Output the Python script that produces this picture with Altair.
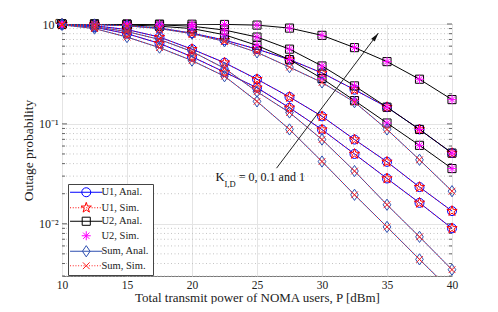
import altair as alt
import pandas as pd
import numpy as np

# ---------------- data ----------------
P = [10, 12.5, 15, 17.5, 20, 22.5, 25, 27.5, 30, 32.5, 35, 37.5, 40]
K_LABELS = ["0", "0.1", "1"]

u1_anal_k0 = [0.985, 0.93, 0.80, 0.64, 0.47, 0.33, 0.23, 0.145, 0.0877, 0.050, 0.0284, 0.0162, 0.0090]
u1_anal_k01 = [0.99, 0.96, 0.88, 0.74, 0.56, 0.41, 0.28, 0.186, 0.119, 0.0697, 0.0417, 0.0233, 0.0134]
u1_anal_k1 = [1.0, 0.99, 0.96, 0.91, 0.81, 0.69, 0.56, 0.44, 0.324, 0.22, 0.147, 0.088, 0.051]
u1_sim_k0 = [0.985, 0.93, 0.80, 0.64, 0.47, 0.33, 0.23, 0.145, 0.0877, 0.050, 0.0284, 0.0162, 0.0090]
u1_sim_k01 = [0.99, 0.96, 0.88, 0.74, 0.56, 0.41, 0.28, 0.186, 0.119, 0.0697, 0.0417, 0.0233, 0.0134]
u1_sim_k1 = [1.0, 0.99, 0.96, 0.91, 0.81, 0.69, 0.56, 0.44, 0.324, 0.22, 0.147, 0.088, 0.051]

u2_anal_k0 = [1.0, 0.995, 0.98, 0.95, 0.90, 0.78, 0.61, 0.44, 0.285, 0.171, 0.102, 0.061, 0.0357]
u2_anal_k01 = [1.0, 1.0, 0.995, 0.98, 0.95, 0.87, 0.74, 0.56, 0.38, 0.24, 0.147, 0.088, 0.051]
u2_anal_k1 = [1.0, 1.0, 1.0, 0.998, 0.995, 0.99, 0.975, 0.91, 0.77, 0.58, 0.42, 0.28, 0.175]
u2_sim_k0 = [1.0, 0.995, 0.98, 0.95, 0.90, 0.78, 0.61, 0.44, 0.285, 0.171, 0.102, 0.061, 0.0357]
u2_sim_k01 = [1.0, 1.0, 0.995, 0.98, 0.95, 0.87, 0.74, 0.56, 0.38, 0.24, 0.147, 0.088, 0.051]
u2_sim_k1 = [1.0, 1.0, 1.0, 0.998, 0.995, 0.99, 0.975, 0.91, 0.77, 0.58, 0.42, 0.28, 0.175]

sum_anal_k0 = [0.98, 0.90, 0.74, 0.58, 0.43, 0.30, 0.168, 0.088, 0.042, 0.0195, 0.0093, 0.0044, 0.0021]
sum_anal_k01 = [0.99, 0.94, 0.84, 0.70, 0.53, 0.36, 0.21, 0.13, 0.0697, 0.0337, 0.0155, 0.0074, 0.00347]
sum_anal_k1 = [1.0, 0.99, 0.96, 0.90, 0.80, 0.67, 0.52, 0.37, 0.26, 0.165, 0.088, 0.0437, 0.0212]
sum_sim_k0 = [0.98, 0.90, 0.74, 0.58, 0.43, 0.30, 0.168, 0.088, 0.042, 0.0195, 0.0093, 0.0044, 0.0021]
sum_sim_k01 = [0.99, 0.94, 0.84, 0.70, 0.53, 0.36, 0.21, 0.13, 0.0697, 0.0337, 0.0155, 0.0074, 0.00347]
sum_sim_k1 = [1.0, 0.99, 0.96, 0.90, 0.80, 0.67, 0.52, 0.37, 0.26, 0.165, 0.088, 0.0437, 0.0212]

SERIES = ["U1, Anal.", "U1, Sim.", "U2, Anal.", "U2, Sim.", "Sum, Anal.", "Sum, Sim."]
SERIES_DATA = {
    "U1, Anal.": [u1_anal_k0, u1_anal_k01, u1_anal_k1],
    "U1, Sim.": [u1_sim_k0, u1_sim_k01, u1_sim_k1],
    "U2, Anal.": [u2_anal_k0, u2_anal_k01, u2_anal_k1],
    "U2, Sim.": [u2_sim_k0, u2_sim_k01, u2_sim_k1],
    "Sum, Anal.": [sum_anal_k0, sum_anal_k01, sum_anal_k1],
    "Sum, Sim.": [sum_sim_k0, sum_sim_k01, sum_sim_k1],
}

X_TICKS = [10, 15, 20, 25, 30, 35, 40]
Y_TICKS = [0.01, 0.1, 1]
Y_MINOR = [0.003, 0.004, 0.005, 0.006, 0.007, 0.008, 0.009,
           0.02, 0.03, 0.04, 0.05, 0.06, 0.07, 0.08, 0.09,
           0.2, 0.3, 0.4, 0.5, 0.6, 0.7, 0.8, 0.9]

# annotation (data coordinates)
ARROW_X = [26.5]
ARROW_Y = [0.036]
ARROW_X2 = [34.33]
ARROW_Y2 = [0.81]
ANNOT_TEXT = ["K", "I,D", "= 0, 0.1 and 1"]
ANNOT_X = [21.8, 22.5, 23.6]
ANNOT_Y = [0.0266, 0.0233, 0.0266]

# ---------------- styles ----------------
COLORS = {"U1, Anal.": "#0000ff", "U1, Sim.": "#ff0000", "U2, Anal.": "#000000",
          "U2, Sim.": "#ff00ff", "Sum, Anal.": "#2e4fb0", "Sum, Sim.": "#ff2020"}


def star_path(ro=1.2, ri=0.47):
    pts = []
    for i in range(10):
        r = ro if i % 2 == 0 else ri
        a = -np.pi / 2 + i * np.pi / 5
        pts.append((r * np.cos(a), r * np.sin(a)))
    return "M" + "L".join(f"{x:.3f},{y:.3f}" for x, y in pts) + "Z"


CIRCLE = "M1,0A1,1,0,1,1,-1,0A1,1,0,1,1,1,0"
SQUARE = "M-0.9,-0.9H0.9V0.9H-0.9Z"
STAR = star_path()
ASTER = "M0,-1V1M-1,0H1M-0.7,-0.7L0.7,0.7M-0.7,0.7L0.7,-0.7"
DIAMOND = "M0,-1.25L0.85,0L0,1.25L-0.85,0Z"
XMARK = "M-0.75,-0.75L0.75,0.75M-0.75,0.75L0.75,-0.75"


def dotted_stub(x0=-3.6, x1=3.6, step=0.6, seg=0.22):
    parts = []
    x = x0
    while x < x1:
        parts.append(f"M{x:.2f},0h{seg}")
        x += step
    return "".join(parts)


SOLID_STUB = "M-3.6,0H3.6"
MARKERS = {"U1, Anal.": CIRCLE, "U1, Sim.": STAR, "U2, Anal.": SQUARE,
           "U2, Sim.": ASTER, "Sum, Anal.": DIAMOND, "Sum, Sim.": XMARK}
LINE_DASH = {"U1, Anal.": None, "U1, Sim.": [1, 2], "U2, Anal.": None,
             "U2, Sim.": "none", "Sum, Anal.": None, "Sum, Sim.": [1, 2]}
LEGEND_PATHS = [
    SOLID_STUB + CIRCLE,
    dotted_stub() + STAR,
    SOLID_STUB + SQUARE,
    ASTER,
    SOLID_STUB + DIAMOND,
    dotted_stub() + XMARK,
]

FONT = "Liberation Serif"
TXT = "#222222"

rows = []
for s in SERIES:
    for k, vals in zip(K_LABELS, SERIES_DATA[s]):
        for p, v in zip(P, vals):
            rows.append({"series": s, "K": k, "P": p, "value": v})
df = pd.DataFrame(rows)

W, H = 390, 252

xenc = alt.X("P:Q", scale=alt.Scale(domain=[10, 40], nice=False, zero=False),
             axis=alt.Axis(values=X_TICKS, title="Total transmit power of NOMA users, P [dBm]",
                           grid=True, gridColor="#e4e4e4", ticks=False, domain=False,
                           labelPadding=3, labelFlush=False,
                           titleBaseline="alphabetic", titleY=25,
                           labelFontSize=11.5, titleFontSize=13))
yscale = alt.Scale(type="log", domain=[0.003, 1], nice=False)
yenc = alt.Y("value:Q", scale=yscale,
             axis=alt.Axis(values=Y_TICKS, title="Outage probability", grid=True,
                           gridColor="#e4e4e4", ticks=False, domain=False,
                           labelPadding=4, titlePadding=3,
                           labelFontSize=12, titleFontSize=13.5,
                           labelExpr="datum.value > 0.5 ? '10⁰' : (datum.value > 0.05 ? '10⁻¹' : '10⁻²')"))

layers = []

# minor dotted grid
minor_df = pd.DataFrame({"value": Y_MINOR})
layers.append(alt.Chart(minor_df).mark_rule(color="#c4c4c4", strokeDash=[1, 2.5], strokeWidth=1)
              .encode(y=alt.Y("value:Q", scale=yscale)))

# inward y ticks (left and right)
maj_df = pd.DataFrame({"value": Y_TICKS})
for x0, x1, d in [(0, 5, maj_df), (W, W - 5, maj_df), (0, 3, minor_df), (W, W - 3, minor_df)]:
    layers.append(alt.Chart(d).mark_rule(color="#666", strokeWidth=1)
                  .encode(y=alt.Y("value:Q", scale=yscale), x=alt.value(x0), x2=alt.value(x1)))

for s in SERIES:
    d = df[df.series == s]
    if LINE_DASH[s] != "none":
        kw = dict(color=COLORS[s], strokeWidth=1, clip=True)
        if LINE_DASH[s] is not None:
            kw["strokeDash"] = LINE_DASH[s]
        layers.append(alt.Chart(d).mark_line(**kw).encode(x=xenc, y=yenc, detail="K:N"))
    dp = d[d.value >= 0.003]
    layers.append(alt.Chart(dp).mark_point(shape=MARKERS[s], color=COLORS[s], filled=False,
                                           size=81, strokeWidth=1, opacity=1)
                  .encode(x=xenc, y=yenc))

# legend-only layer
leg = alt.Chart(df).transform_filter("false").mark_point(filled=False, strokeWidth=1, opacity=1).encode(
    x=xenc, y=yenc,
    color=alt.Color("series:N", scale=alt.Scale(domain=SERIES, range=[COLORS[s] for s in SERIES]),
                    legend=alt.Legend(title=None)),
    shape=alt.Shape("series:N", scale=alt.Scale(domain=SERIES, range=LEGEND_PATHS),
                    legend=alt.Legend(title=None)),
)
layers.append(leg)

# arrow
arrow_df = pd.DataFrame({"x": ARROW_X, "y": ARROW_Y, "x2": ARROW_X2, "y2": ARROW_Y2})
layers.append(alt.Chart(arrow_df).mark_rule(color="#222", strokeWidth=1).encode(
    x=alt.X("x:Q", scale=alt.Scale(domain=[10, 40])), y=alt.Y("y:Q", scale=yscale),
    x2="x2:Q", y2="y2:Q"))
layers.append(alt.Chart(arrow_df).mark_point(shape="M0,0L-0.55,2.2L0.55,2.2Z", filled=True,
                                             color="#111", size=64, angle=37, opacity=1).encode(
    x=alt.X("x2:Q", scale=alt.Scale(domain=[10, 40])), y=alt.Y("y2:Q", scale=yscale)))

ann_df = pd.DataFrame({"x": ANNOT_X, "y": ANNOT_Y, "t": ANNOT_TEXT, "fs": [12.5, 8.5, 12]})
layers.append(alt.Chart(ann_df).mark_text(align="left", baseline="alphabetic", font=FONT,
                                          color="#111").encode(
    x=alt.X("x:Q", scale=alt.Scale(domain=[10, 40])), y=alt.Y("y:Q", scale=yscale),
    text="t:N", size=alt.Size("fs:Q", scale=None, legend=None)))

chart = alt.layer(*layers).properties(
    width=W, height=H,
    autosize=alt.AutoSizeParams(type="none"),
    padding={"left": 54, "top": 16, "right": 38, "bottom": 28},
).configure_view(stroke="#777", strokeWidth=1).configure_axis(
    labelFont=FONT, titleFont=FONT,
    labelColor=TXT, titleColor=TXT, titleFontWeight="normal",
).configure_legend(
    orient="none", legendX=6, legendY=160, padding=3, symbolOffset=10, labelOffset=10,
    rowPadding=0.5, labelFont=FONT, labelFontSize=10.5, labelColor=TXT,
    strokeColor="#444", fillColor="white", symbolSize=81, symbolStrokeWidth=1,
    cornerRadius=0,
)

chart.save("out.html", embed_options={"renderer": "svg", "actions": False})
